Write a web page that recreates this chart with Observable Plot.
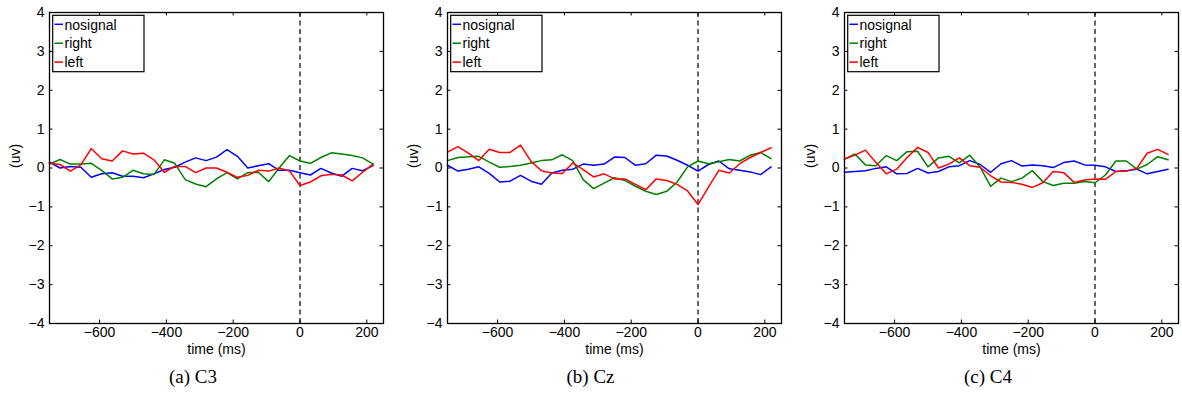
<!DOCTYPE html>
<html><head><meta charset="utf-8">
<script src="https://cdn.jsdelivr.net/npm/d3@7"></script>
<script src="https://cdn.jsdelivr.net/npm/@observablehq/plot@0.6"></script>
<style>
body{margin:0;background:#fff;}
#wrap{position:relative;width:1182px;height:405px;overflow:hidden;background:#fff;}
.panel{position:absolute;top:0;}
.cap{position:absolute;font-family:"Liberation Serif","Times New Roman",serif;font-size:19px;line-height:22px;white-space:nowrap;transform:translateX(-50%);color:#000;}
</style></head><body><div id="wrap"></div>
<script>
const time = [-750, -718.75, -687.5, -656.25, -625, -593.75, -562.5, -531.25, -500, -468.75, -437.5, -406.25, -375, -343.75, -312.5, -281.25, -250, -218.75, -187.5, -156.25, -125, -93.75, -62.5, -31.25, 0, 31.25, 62.5, 93.75, 125, 156.25, 187.5, 218.75];

const c3_nosignal = [0.15, 0.0, 0.04, 0.02, -0.24, -0.15, -0.12, -0.21, -0.21, -0.25, -0.15, -0.04, 0.02, 0.15, 0.26, 0.19, 0.28, 0.47, 0.30, 0.0, 0.06, 0.11, -0.06, -0.06, -0.12, -0.18, -0.01, -0.13, -0.21, -0.01, -0.07, 0.06];
const c3_right = [0.10, 0.22, 0.10, 0.10, 0.12, -0.06, -0.28, -0.24, -0.06, -0.15, -0.17, 0.21, 0.12, -0.30, -0.41, -0.48, -0.28, -0.12, -0.28, -0.12, -0.11, -0.35, 0.0, 0.32, 0.18, 0.12, 0.27, 0.39, 0.36, 0.32, 0.26, 0.10];
const c3_left = [0.12, 0.09, -0.08, 0.08, 0.50, 0.24, 0.18, 0.44, 0.36, 0.38, 0.21, -0.11, 0.04, 0.04, -0.12, 0.0, 0.0, -0.11, -0.24, -0.19, -0.06, -0.08, 0.0, -0.08, -0.45, -0.36, -0.20, -0.16, -0.18, -0.33, -0.11, 0.10];

const cz_nosignal = [0.07, -0.08, -0.03, 0.03, -0.14, -0.36, -0.34, -0.19, -0.34, -0.42, -0.13, -0.06, -0.03, 0.10, 0.07, 0.10, 0.28, 0.27, 0.07, 0.11, 0.33, 0.31, 0.20, 0.07, -0.08, 0.09, 0.18, -0.02, -0.06, -0.10, -0.17, 0.03];
const cz_right = [0.19, 0.27, 0.29, 0.30, 0.15, 0.02, 0.04, 0.07, 0.13, 0.19, 0.21, 0.34, 0.19, -0.30, -0.53, -0.39, -0.25, -0.32, -0.47, -0.60, -0.68, -0.60, -0.36, 0.03, 0.18, 0.11, 0.16, 0.22, 0.18, 0.33, 0.40, 0.24];
const cz_left = [0.41, 0.55, 0.38, 0.19, 0.48, 0.40, 0.40, 0.59, 0.17, -0.07, -0.13, -0.14, 0.13, -0.04, -0.23, -0.15, -0.28, -0.28, -0.42, -0.56, -0.28, -0.32, -0.42, -0.59, -0.94, -0.49, -0.06, -0.13, 0.11, 0.27, 0.40, 0.52];

const c4_nosignal = [-0.11, -0.09, -0.07, -0.01, 0.03, -0.15, -0.14, -0.01, -0.13, -0.09, 0.03, 0.06, 0.19, 0.09, -0.11, 0.11, 0.19, 0.05, 0.08, 0.06, 0.01, 0.14, 0.18, 0.08, 0.07, 0.03, -0.09, -0.07, -0.03, -0.15, -0.09, -0.03];
const c4_right = [0.23, 0.36, 0.08, 0.06, 0.32, 0.19, 0.42, 0.43, 0.03, 0.26, 0.30, 0.13, 0.33, 0.02, -0.47, -0.26, -0.35, -0.26, -0.07, -0.35, -0.45, -0.39, -0.39, -0.35, -0.38, -0.18, 0.18, 0.18, -0.03, 0.09, 0.29, 0.21];
const c4_left = [0.23, 0.33, 0.46, 0.15, -0.15, -0.03, 0.27, 0.53, 0.40, 0.0, 0.10, 0.26, 0.06, 0.02, -0.20, -0.36, -0.37, -0.42, -0.50, -0.38, -0.09, -0.12, -0.37, -0.31, -0.28, -0.29, -0.09, -0.08, -0.01, 0.38, 0.48, 0.35];

const xTicks = [-600, -400, -200, 0, 200];
const yTicks = [-4, -3, -2, -1, 0, 1, 2, 3, 4];
const xDomain = [-750, 250];
const yDomain = [-4, 4];
const seriesNames = ["nosignal", "right", "left"];
const seriesColors = ["#0000ff", "#008000", "#ff0000"];
const captions = ["(a) C3", "(b) Cz", "(c) C4"];
const panelSeries = [
  [c3_nosignal, c3_right, c3_left],
  [cz_nosignal, cz_right, cz_left],
  [c4_nosignal, c4_right, c4_left]
];

const panelLeft = [0, 397.5, 795];
const panelWidth = [397, 397, 387];
const ML = 49, PW = 334, MT = 12, MB = 37, H = 362;
const font = "'Liberation Sans', Arial, Helvetica, sans-serif";
const fmt = d => d < 0 ? "\u2212" + Math.abs(d) : String(d);

const wrap = document.getElementById("wrap");

panelSeries.forEach((series, k) => {
  const rows = [];
  series.forEach((vals, s) => vals.forEach((v, i) => rows.push({t: time[i], v, s: seriesNames[s]})));
  const tl = 3.5;
  const tx = tl / PW * (xDomain[1] - xDomain[0]);
  const ty = tl / (H - MT - MB) * (yDomain[1] - yDomain[0]);
  const svg = Plot.plot({
    width: panelWidth[k], height: H,
    marginLeft: ML, marginRight: panelWidth[k] - ML - PW, marginTop: MT, marginBottom: H - MT - 311,
    style: {fontFamily: font, fontSize: "14px", background: "white", color: "black", overflow: "visible"},
    x: {domain: xDomain, label: null},
    y: {domain: yDomain, label: null},
    color: {domain: seriesNames, range: seriesColors},
    marks: [
      Plot.ruleX([0], {stroke: "black", strokeWidth: 1.2, strokeDasharray: "5,3.5"}),
      Plot.line(rows, {x: "t", y: "v", z: "s", stroke: "s", strokeWidth: 1.5}),
      Plot.ruleX(xTicks, {x: d => d, y1: yDomain[0], y2: yDomain[0] + ty, stroke: "black", strokeWidth: 1}),
      Plot.ruleX(xTicks, {x: d => d, y1: yDomain[1], y2: yDomain[1] - ty, stroke: "black", strokeWidth: 1}),
      Plot.ruleY(yTicks, {y: d => d, x1: xDomain[0], x2: xDomain[0] + tx, stroke: "black", strokeWidth: 1}),
      Plot.ruleY(yTicks, {y: d => d, x1: xDomain[1], x2: xDomain[1] - tx, stroke: "black", strokeWidth: 1}),
      Plot.frame({stroke: "black", strokeWidth: 1.3}),
      Plot.axisX({ticks: xTicks, tickSize: 0, tickPadding: 4, tickFormat: fmt, fontSize: 14, label: null}),
      Plot.axisY({ticks: yTicks, tickSize: 0, tickPadding: 5, tickFormat: fmt, fontSize: 14, label: null}),
      Plot.text(["time (ms)"], {frameAnchor: "bottom", dy: 30, fontSize: 14, fill: "black"}),
      Plot.text(["(uv)"], {frameAnchor: "left", dx: -34, rotate: -90, fontSize: 14, fill: "black"})
    ]
  });
  // legend box
  const g = d3.select(svg).append("g").attr("font-family", font).attr("font-size", 14).attr("text-anchor", "start");
  g.append("rect").attr("x", 52.7).attr("y", 15.3).attr("width", 91.3).attr("height", 56.4)
    .attr("fill", "white").attr("stroke", "black").attr("stroke-width", 1.2);
  seriesNames.forEach((n, s) => {
    const cy = 24.3 + s * 18.9;
    g.append("line").attr("x1", 54.5).attr("x2", 63).attr("y1", cy).attr("y2", cy)
      .attr("stroke", seriesColors[s]).attr("stroke-width", 1.5);
    g.append("text").attr("x", 64.5).attr("y", cy + 5.2).attr("fill", "black")
      .attr("text-anchor", "start").text(n);
  });
  const div = document.createElement("div");
  div.className = "panel";
  div.style.left = panelLeft[k] + "px";
  div.appendChild(svg);
  wrap.appendChild(div);
  const cap = document.createElement("div");
  cap.className = "cap";
  cap.style.left = (panelLeft[k] + 193) + "px";
  cap.style.top = "366px";
  cap.textContent = captions[k];
  wrap.appendChild(cap);
});
</script></body></html>
